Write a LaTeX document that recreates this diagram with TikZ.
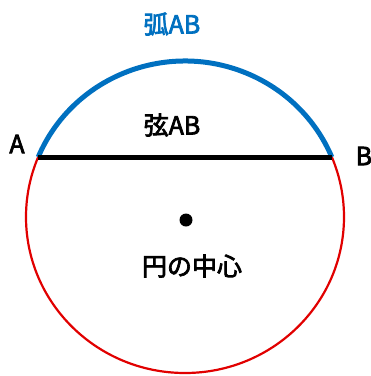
\documentclass[tikz,border=0pt]{standalone}
\usepackage{fontspec}
\usetikzlibrary{calc}
\newfontfamily\jp{Noto Sans CJK JP}[FakeBold=2.8]
\definecolor{arcblue}{RGB}{0,112,192}
\definecolor{circred}{RGB}{225,0,0}
\begin{document}
\begin{tikzpicture}[x=1pt,y=-1pt,
  lbl/.style={inner sep=0pt,font=\jp\fontsize{25}{25}\selectfont}]
\useasboundingbox (0,0) rectangle (371,376);
\coordinate (C) at (185,217);
\coordinate (A) at ($(C)+(202.6:159 and 156)$);
\coordinate (B) at ($(C)+(337.4:159 and 156)$);
\draw[circred,line width=2.2pt] (C) ellipse[x radius=159,y radius=156];
\draw[arcblue,line width=5pt] (A) arc[start angle=202.6,end angle=337.4,x radius=159,y radius=156];
\draw[black,line width=5pt] (A) -- (B);
\fill (186,220) circle[radius=6.5] coordinate (O);
\node[lbl,text=arcblue] (arcl) at (172,24) {弧AB};
\node[lbl] (chordl) at (172,125) {弦AB};
\node[lbl] (al) at (17,144) {A};
\node[lbl,anchor=west] (bl) at (355.5,156) {B};
\node[lbl] (cl) at (192,266) {円の中心};
\end{tikzpicture}
\end{document}
